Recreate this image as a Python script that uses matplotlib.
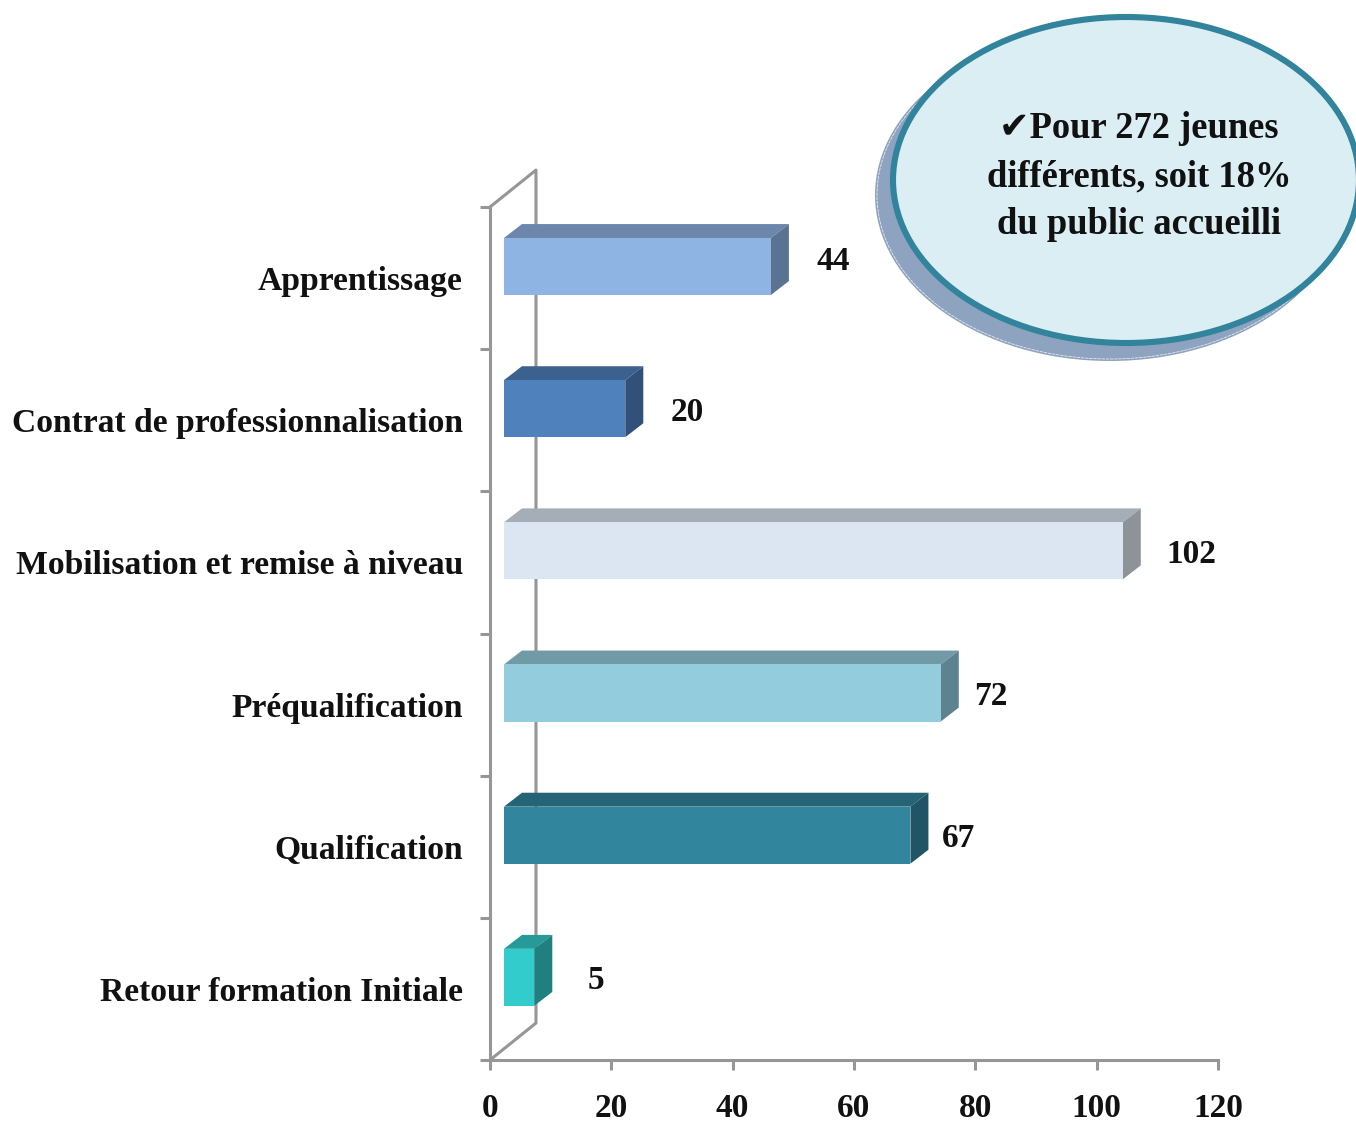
import matplotlib
matplotlib.use("Agg")
import matplotlib.pyplot as plt
from matplotlib.patches import Ellipse, Polygon

plt.rcParams['font.family'] = ['Liberation Serif', 'DejaVu Sans']

categories = ["Apprentissage", "Contrat de professionnalisation",
              "Mobilisation et remise à niveau", "Préqualification",
              "Qualification", "Retour formation Initiale"]
values = [44, 20, 102, 72, 67, 5]
x_ticks = [0, 20, 40, 60, 80, 100, 120]
front_colors = ["#8EB4E3", "#4F81BD", "#DCE6F2", "#93CDDD", "#31859C", "#33CCCC"]
top_colors = ["#6C87AB", "#3C618E", "#A5ADB6", "#6F9AA6", "#256475", "#269999"]
side_colors = ["#5B7393", "#31517A", "#8D9399", "#5E8390", "#1F5564", "#20807F"]
note_lines = ["✔Pour 272 jeunes", "différents, soit 18%", "du public accueilli"]

# label offsets in pixels
label_gap = [46, 45, 44, 33, 31, 53]
label_dy = [-0.06, 0, 0, 0, 0, 0]

W, H = 1356, 1124
GRAY = "#969696"

fig = plt.figure(figsize=(W / 100, H / 100), dpi=100)
ax = fig.add_axes([490 / W, 1 - 1060 / H, 728 / W, 853 / H])
ax.set_xlim(0, 120)
ax.set_ylim(6, 0)

# 3d offsets in data units
wall_dx, wall_dy = 7.58, 0.26
bar_dx, bar_dy = 2.97, 0.098
bar_x0 = 2.3
bar_top, bar_bot = 0.218, 0.619

# back wall
ax.plot([0, wall_dx, wall_dx, 0], [0, -wall_dy, 6 - wall_dy, 6],
        color=GRAY, lw=2.2, clip_on=False, zorder=1)

for i, v in enumerate(values):
    x1 = bar_x0 + v
    y0, y1 = i + bar_top, i + bar_bot
    ax.add_patch(Polygon([(bar_x0, y0), (bar_x0 + bar_dx, y0 - bar_dy),
                          (x1 + bar_dx, y0 - bar_dy), (x1, y0)],
                         fc=top_colors[i], ec="none", clip_on=False, zorder=3))
    ax.add_patch(Polygon([(x1, y0), (x1 + bar_dx, y0 - bar_dy),
                          (x1 + bar_dx, y1 - bar_dy), (x1, y1)],
                         fc=side_colors[i], ec="none", clip_on=False, zorder=3))
    ax.add_patch(Polygon([(bar_x0, y0), (x1, y0), (x1, y1), (bar_x0, y1)],
                         fc=front_colors[i], ec="none", clip_on=False, zorder=4))
    ax.annotate(str(v), xy=(x1, i + 0.443 + label_dy[i]),
                xytext=(label_gap[i], 0), textcoords="offset pixels",
                ha="left", va="center", fontsize=24, fontweight="bold",
                color="#111111", zorder=5)

for s in ["top", "right"]:
    ax.spines[s].set_visible(False)
for s in ["left", "bottom"]:
    ax.spines[s].set_color(GRAY)
    ax.spines[s].set_linewidth(2.2)
    ax.spines[s].set_zorder(2)

ax.set_xticks(x_ticks)
ax.set_xticklabels([str(t) for t in x_ticks], fontsize=24, fontweight="bold", color="#111111")
ax.tick_params(axis="x", length=7, width=2.2, color=GRAY, pad=17)
ax.set_yticks(range(7))
ax.set_yticklabels([])
ax.tick_params(axis="y", which="major", length=7, width=2.2, color=GRAY)
ax.set_yticks([i + 0.5 for i in range(6)], minor=True)
ax.set_yticklabels(categories, minor=True, fontsize=24.2, fontweight="bold", color="#111111")
ax.tick_params(axis="y", which="minor", length=0, pad=19.5)

# callout in pixel coordinates
over = fig.add_axes([0, 0, 1, 1], facecolor="none")
over.set_xlim(0, W)
over.set_ylim(H, 0)
over.axis("off")
over.add_patch(Ellipse((1110, 195), 470, 332, fc="#8EA3BF", ec="none"))
over.add_patch(Ellipse((1110, 195), 466, 328, fc="none", ec="#E4E9F0", lw=0.6, ls=(0, (4, 1))))
over.add_patch(Ellipse((1126, 180), 466, 326, fc="#DBEEF4", ec="#31849B", lw=4.4))
for line, y in zip(note_lines, [129, 177, 224]):
    over.text(1139, y, line, ha="center", va="center", fontsize=26.3,
              fontweight="bold", color="#111111")

fig.savefig("out.png", dpi=100)
